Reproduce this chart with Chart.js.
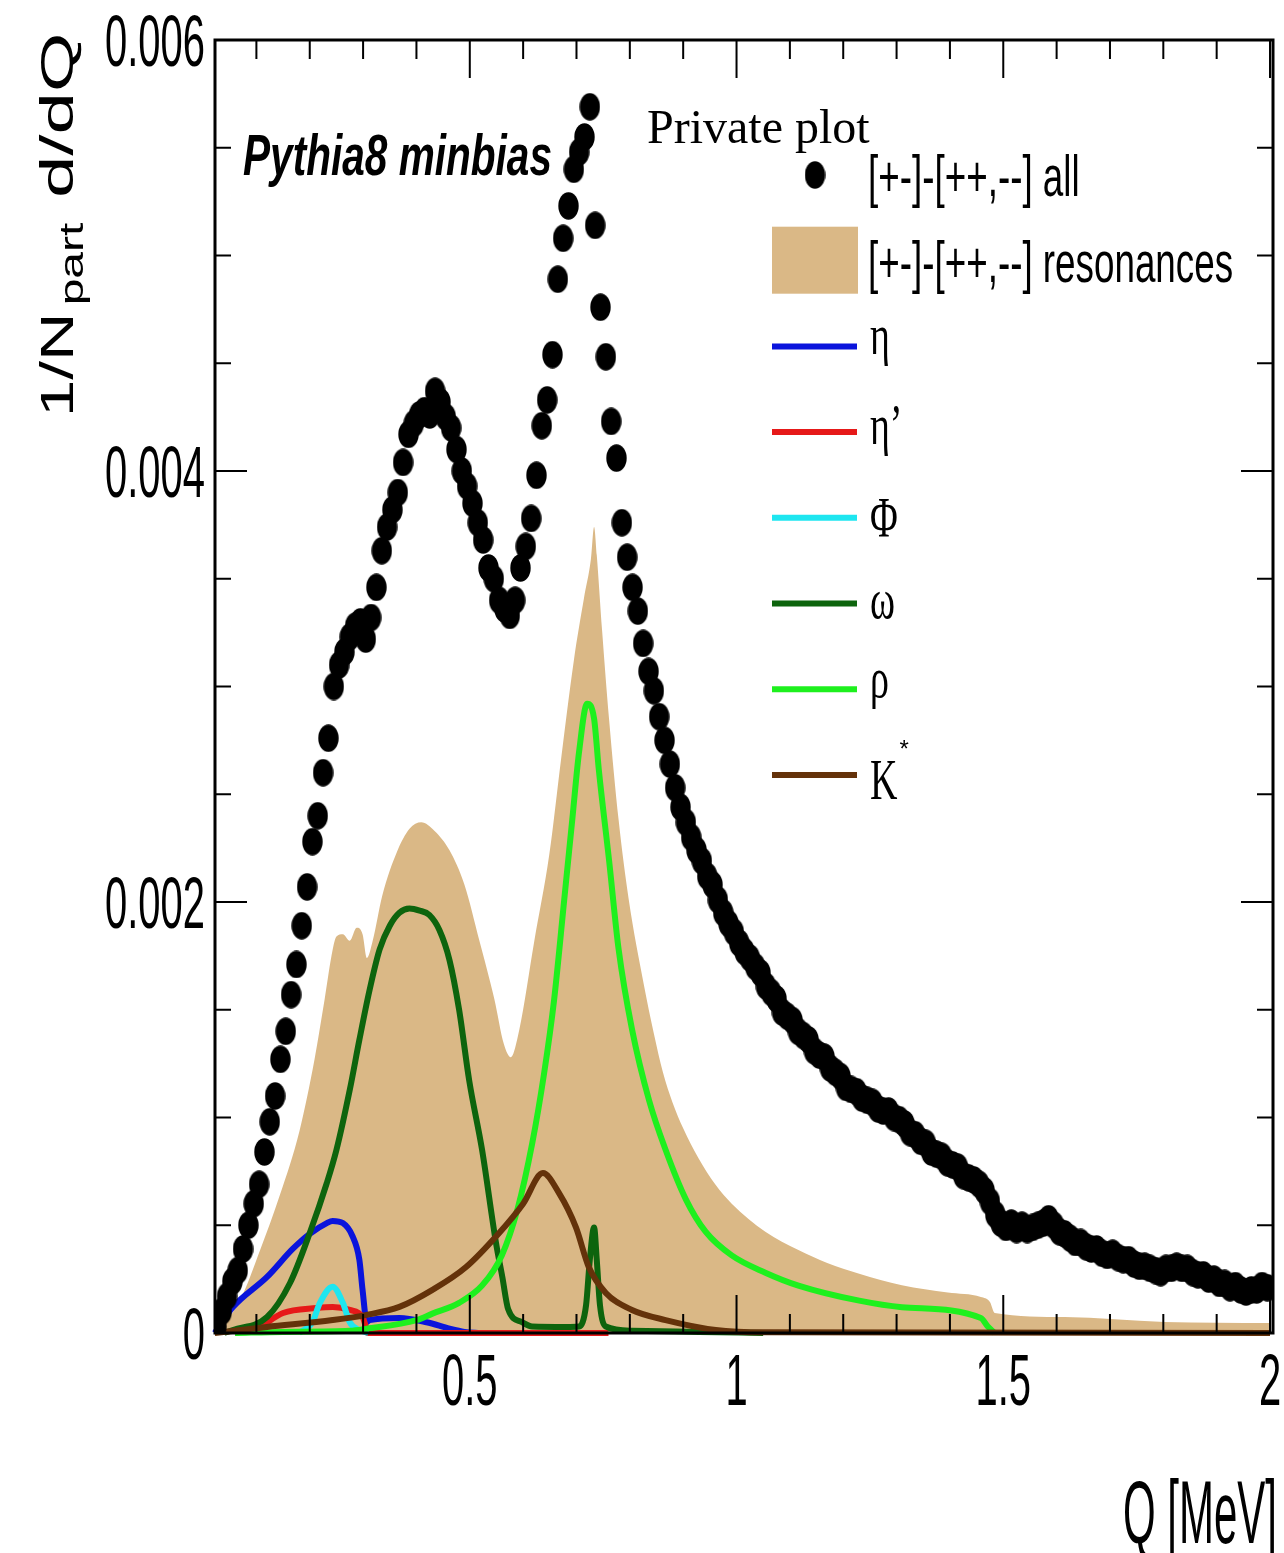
<!DOCTYPE html>
<html>
<head>
<meta charset="utf-8">
<script src="https://cdn.jsdelivr.net/npm/chart.js@4.4.1/dist/chart.umd.min.js"></script>
<style>
html, body { margin: 0; padding: 0; background: #fff; }
canvas { display: block; }
</style>
</head>
<body>
<canvas id="plot" width="1284" height="1553"></canvas>
<script>
// all values below are in units of 1e-3 (1/Npart d/dQ)

// [+-]-[++,--] all : histogram, bin width 0.01, first bin centre 0.025
var allStart = 0.025;
var allBin = 0.01;
var allVals = [
  0.03, 0.10, 0.17, 0.24, 0.29, 0.39, 0.50, 0.60, 0.69, 0.84,
  0.98, 1.10, 1.27, 1.40, 1.57, 1.71, 1.89, 2.07, 2.28, 2.40,
  2.60, 2.76, 3.00, 3.10, 3.16, 3.23, 3.28, 3.30, 3.22, 3.32,
  3.46, 3.63, 3.74, 3.82, 3.90, 4.04, 4.17, 4.22, 4.26, 4.28,
  4.26, 4.37, 4.32, 4.25, 4.20, 4.10, 4.00, 3.93, 3.85, 3.76,
  3.68, 3.55, 3.50, 3.40, 3.36, 3.33, 3.40, 3.55, 3.65, 3.78,
  3.98, 4.21, 4.33, 4.54, 4.89, 5.08, 5.23, 5.40, 5.48, 5.55,
  5.69, 5.14, 4.76, 4.53, 4.23, 4.06, 3.76, 3.60, 3.46, 3.35,
  3.20, 3.07, 2.98, 2.86, 2.75, 2.64, 2.53, 2.44, 2.37, 2.30,
  2.24, 2.19, 2.12, 2.08, 2.01, 1.95, 1.90, 1.86, 1.81, 1.77,
  1.74, 1.70, 1.67, 1.61, 1.58, 1.55, 1.49, 1.47, 1.45, 1.40,
  1.38, 1.36, 1.31, 1.29, 1.28, 1.23, 1.21, 1.19, 1.14, 1.13,
  1.12, 1.09, 1.08, 1.07, 1.04, 1.03, 1.03, 1.00, 0.99, 0.97,
  0.93, 0.92, 0.89, 0.88, 0.84, 0.83, 0.82, 0.79, 0.78, 0.77,
  0.73, 0.72, 0.71, 0.69, 0.66, 0.61, 0.55, 0.51, 0.49, 0.51,
  0.48, 0.50, 0.48, 0.49, 0.50, 0.51, 0.53, 0.50, 0.47, 0.46,
  0.44, 0.42, 0.42, 0.40, 0.39, 0.39, 0.37, 0.36, 0.37, 0.35,
  0.34, 0.34, 0.32, 0.31, 0.31, 0.30, 0.29, 0.28, 0.30, 0.30,
  0.31, 0.30, 0.30, 0.28, 0.27, 0.27, 0.25, 0.25, 0.23, 0.23,
  0.21, 0.22, 0.20, 0.19, 0.20, 0.20, 0.22, 0.21
];

// [+-]-[++,--] resonances (filled)
var resQ = [0.022, 0.069, 0.107, 0.144, 0.181, 0.209, 0.228, 0.243, 0.250, 0.262, 0.275, 0.288, 0.299, 0.307, 0.318,
  0.336, 0.363, 0.387, 0.409, 0.434, 0.462, 0.490, 0.518, 0.546, 0.564, 0.577, 0.593, 0.621, 0.649, 0.671,
  0.695, 0.714, 0.727, 0.733, 0.738, 0.748, 0.761, 0.779, 0.798, 0.826, 0.845, 0.862, 0.880, 0.900, 0.929,
  0.960, 0.991, 1.054, 1.116, 1.170, 1.230, 1.310, 1.396, 1.458, 1.475, 1.484, 1.615, 1.802, 2.0];
var resVals = [0, 0.15, 0.385, 0.64, 0.94, 1.27, 1.55, 1.78, 1.84, 1.85, 1.82, 1.88, 1.85, 1.74, 1.82,
  2.03, 2.23, 2.34, 2.37, 2.33, 2.24, 2.08, 1.82, 1.55, 1.34, 1.28, 1.41, 1.82, 2.22, 2.66,
  3.12, 3.41, 3.59, 3.74, 3.61, 3.26, 2.85, 2.38, 2.01, 1.62, 1.39, 1.21, 1.07, 0.95, 0.81,
  0.69, 0.60, 0.47, 0.385, 0.325, 0.275, 0.222, 0.188, 0.167, 0.144, 0.093, 0.074, 0.051, 0.046];

// eta
var etaQ = [0.022, 0.056, 0.120, 0.168, 0.200, 0.232, 0.243, 0.262, 0.280, 0.293, 0.299, 0.307, 0.312, 0.368, 0.419, 0.462, 0.490, 0.52];
var etaVals = [0, 0.12, 0.26, 0.39, 0.46, 0.51, 0.52, 0.51, 0.45, 0.34, 0.20, 0.05, 0.06, 0.07, 0.05, 0.02, 0.005, 0];

// eta prime
var etapQ = [0.060, 0.100, 0.150, 0.213, 0.243, 0.275, 0.299, 0.305, 0.308, 0.76];
var etapVals = [0, 0.02, 0.093, 0.116, 0.121, 0.107, 0.074, 0.03, 0, 0];

// phi
var phiQ = [0.180, 0.205, 0.219, 0.243, 0.262, 0.275, 0.293, 0.31];
var phiVals = [0, 0.05, 0.14, 0.215, 0.14, 0.05, 0.014, 0];

// omega
var omegaQ = [0.040, 0.056, 0.120, 0.163, 0.200, 0.232, 0.250, 0.275, 0.293, 0.312, 0.331, 0.350, 0.368, 0.387,
  0.406, 0.424, 0.443, 0.462, 0.480, 0.499, 0.523, 0.549, 0.561, 0.572, 0.598, 0.617, 0.680, 0.705, 0.718,
  0.725, 0.733, 0.738, 0.744, 0.755, 0.804, 0.93, 1.05];
var omegaVals = [0, 0.014, 0.074, 0.232, 0.464, 0.696, 0.849, 1.128, 1.36, 1.59, 1.78, 1.89, 1.95, 1.97,
  1.96, 1.94, 1.87, 1.73, 1.50, 1.17, 0.85, 0.42, 0.26, 0.11, 0.05, 0.03, 0.028, 0.03, 0.13,
  0.34, 0.49, 0.34, 0.13, 0.03, 0.01, 0.005, 0];

// rho
var rhoQ = [0.060, 0.150, 0.275, 0.307, 0.400, 0.430, 0.480, 0.523, 0.560, 0.590, 0.617, 0.639, 0.658, 0.677,
  0.692, 0.705, 0.720, 0.733, 0.742, 0.761, 0.779, 0.804, 0.836, 0.867, 0.905, 0.942, 0.991, 1.054, 1.116,
  1.230, 1.310, 1.458, 1.471, 1.484];
var rhoVals = [0, 0.005, 0.01, 0.02, 0.06, 0.09, 0.14, 0.22, 0.36, 0.58, 0.88, 1.20, 1.545, 2.01,
  2.38, 2.70, 2.92, 2.85, 2.61, 2.195, 1.78, 1.41, 1.08, 0.85, 0.62, 0.47, 0.36, 0.28, 0.22,
  0.15, 0.12, 0.07, 0.03, 0];

// K*
var kstarQ = [0.022, 0.120, 0.243, 0.307, 0.368, 0.430, 0.493, 0.555, 0.600, 0.637, 0.667, 0.699, 0.723, 0.755,
  0.804, 0.867, 0.961, 1.054, 2.0];
var kstarVals = [0, 0.028, 0.06, 0.084, 0.121, 0.20, 0.306, 0.464, 0.60, 0.742, 0.65, 0.49, 0.306, 0.186,
  0.107, 0.06, 0.014, 0.003, 0];

var curveLabels = ['η', 'η’', 'Φ', 'ω', 'ρ', 'K*'];
var curveColors = ['#0a14dc', '#e61919', '#1ee6f0', '#0d640d', '#1ef01e', '#64320a'];
var allLabel = '[+-]-[++,--] all';
var resLabel = '[+-]-[++,--] resonances';
var resColor = '#dab886';

var xTicks = [0.5, 1, 1.5, 2];
var xTickLabels = ['0.5', '1', '1.5', '2'];
var yTicks = [0, 0.002, 0.004, 0.006];
var yTickLabels = ['0', '0.002', '0.004', '0.006'];

var SCALE = 1e-3;
var SY = 1.45; // the picture is stretched vertically

function pts(qs, vs) {
    return qs.map(function (q, i) { return { x: q, y: vs[i] * SCALE }; });
}

var allPts = allVals.map(function (v, i) {
    return { x: allStart + allBin * i, y: v * SCALE };
});

// elliptic marker, like the stretched ROOT full circle
var dot = document.createElement('canvas');
dot.width = 21;
dot.height = 28;
var dctx = dot.getContext('2d');
dctx.fillStyle = '#000';
dctx.beginPath();
dctx.ellipse(10.5, 14, 10.2, 13.7, 0, 0, Math.PI * 2);
dctx.fill();

function lineSet(label, data, color, order) {
    return {
        label: label,
        data: data,
        borderColor: color,
        backgroundColor: color,
        borderWidth: 6,
        pointRadius: 0,
        fill: false,
        cubicInterpolationMode: 'monotone',
        clip: 6,
        order: order
    };
}

function drawText(ctx, txt, x, y, font, sx, sy, align, vcenter) {
    ctx.save();
    ctx.font = font;
    var m = ctx.measureText(txt);
    var w = m.width * sx;
    var left = align === 'right' ? x - w : (align === 'center' ? x - w / 2 : x);
    var base = y;
    if (vcenter) {
        base = y + (m.actualBoundingBoxAscent - m.actualBoundingBoxDescent) / 2 * sy;
    }
    ctx.translate(left, base);
    ctx.scale(sx, sy);
    ctx.textAlign = 'left';
    ctx.textBaseline = 'alphabetic';
    ctx.fillStyle = '#000';
    ctx.fillText(txt, 0, 0);
    ctx.restore();
    return w;
}

function fitScale(ctx, txt, font, width) {
    ctx.save();
    ctx.font = font;
    var s = width / ctx.measureText(txt).width;
    ctx.restore();
    return s;
}

var SANS = '"Liberation Sans", Arial, Helvetica, sans-serif';
var SERIF = '"Liberation Serif", "Times New Roman", serif';

var rootAxes = {
    id: 'rootAxes',
    afterDatasetsDraw: function (chart) {
        var ctx = chart.ctx, a = chart.chartArea;
        var xs = chart.scales.x, ys = chart.scales.y;
        ctx.save();
        ctx.strokeStyle = '#000';
        ctx.lineWidth = 2;
        ctx.beginPath();
        var k, p, len;
        for (k = 1; k <= 20; k++) {
            p = xs.getPixelForValue(k / 10);
            len = (k % 5 === 0) ? 38 : 19;
            ctx.moveTo(p, a.bottom); ctx.lineTo(p, a.bottom - len);
            ctx.moveTo(p, a.top); ctx.lineTo(p, a.top + len);
        }
        for (k = 1; k < 12; k++) {
            p = ys.getPixelForValue(k * 0.0005);
            len = (k % 4 === 0) ? 32 : 16;
            ctx.moveTo(a.left, p); ctx.lineTo(a.left + len, p);
            ctx.moveTo(a.right, p); ctx.lineTo(a.right - len, p);
        }
        ctx.stroke();
        ctx.lineWidth = 3;
        ctx.strokeRect(a.left, a.top, a.right - a.left, a.bottom - a.top);
        ctx.restore();
    },
    afterDraw: function (chart) {
        var ctx = chart.ctx;
        var xs = chart.scales.x, ys = chart.scales.y;
        var tickFont = '50px ' + SANS;
        var tsx = fitScale(ctx, '0.006', tickFont, 100);
        yTicks.forEach(function (v, i) {
            drawText(ctx, yTickLabels[i], 205, ys.getPixelForValue(v), tickFont, tsx, SY, 'right', true);
        });
        xTicks.forEach(function (v, i) {
            drawText(ctx, xTickLabels[i], xs.getPixelForValue(v), 1405, tickFont, tsx, SY, 'center', false);
        });

        // x title
        var xf = '61px ' + SANS;
        drawText(ctx, 'Q [MeV]', 1277, 1543, xf, fitScale(ctx, 'Q [MeV]', xf, 154), SY, 'right', false);

        // y title, rotated
        ctx.save();
        ctx.translate(73, 417);
        ctx.rotate(-Math.PI / 2);
        var bf = '47px ' + SANS;
        var sf = '34px ' + SANS;
        drawText(ctx, '1/N', 0, 0, bf, fitScale(ctx, '1/N', bf, 72 * SY), 1, 'left', false);
        drawText(ctx, 'part', 77 * SY, 10, sf, fitScale(ctx, 'part', sf, 57 * SY), 1, 'left', false);
        drawText(ctx, 'd/dQ', 151 * SY, 0, bf, fitScale(ctx, 'd/dQ', bf, 114 * SY), 1, 'left', false);
        ctx.restore();

        // labels
        var pf = 'italic bold 40px ' + SANS;
        drawText(ctx, 'Pythia8 minbias', 243, 175, pf, fitScale(ctx, 'Pythia8 minbias', pf, 309), SY, 'left', false);
        drawText(ctx, 'Private plot', 647, 143, '48px ' + SERIF, 1, 1, 'left', false);

        // legend
        var rowY = function (i) { return 175 + 85.7 * i; };
        var lf = '40px ' + SANS;
        var gf = '40px ' + SERIF;
        ctx.drawImage(dot, 815 - dot.width / 2, rowY(0) - dot.height / 2);
        drawText(ctx, allLabel, 868, rowY(0) + 5, lf, 0.92, SY, 'left', true);
        ctx.fillStyle = resColor;
        ctx.fillRect(772, rowY(1) - 34, 86, 67);
        drawText(ctx, resLabel, 868, rowY(1) + 5, lf, 0.92, SY, 'left', true);
        curveLabels.forEach(function (lab, i) {
            var y = rowY(i + 2);
            ctx.save();
            ctx.strokeStyle = curveColors[i];
            ctx.lineWidth = 6;
            ctx.beginPath();
            ctx.moveTo(772, y);
            ctx.lineTo(857, y);
            ctx.stroke();
            ctx.restore();
            if (lab.slice(-1) === '*') {
                var w = drawText(ctx, lab.slice(0, -1), 870, y + 5, gf, 0.95, SY, 'left', true);
                drawText(ctx, '*', 870 + w + 2, y - 30, '24px ' + SANS, 1, 1, 'left', true);
            } else {
                drawText(ctx, lab, 870, y, gf, 0.95, SY, 'left', true);
            }
        });
    }
};

var ctx = document.getElementById('plot');
var chart = new Chart(ctx, {
    type: 'line',
    data: {
        datasets: [
            {
                label: allLabel,
                data: allPts,
                showLine: false,
                pointStyle: dot,
                pointRadius: 10,
                pointHoverRadius: 10,
                clip: 0,
                order: 0
            },
            lineSet(curveLabels[5], pts(kstarQ, kstarVals), curveColors[5], 1),
            lineSet(curveLabels[4], pts(rhoQ, rhoVals), curveColors[4], 2),
            lineSet(curveLabels[3], pts(omegaQ, omegaVals), curveColors[3], 3),
            lineSet(curveLabels[2], pts(phiQ, phiVals), curveColors[2], 4),
            lineSet(curveLabels[1], pts(etapQ, etapVals), curveColors[1], 5),
            lineSet(curveLabels[0], pts(etaQ, etaVals), curveColors[0], 6),
            {
                label: resLabel,
                data: pts(resQ, resVals),
                borderWidth: 0,
                pointRadius: 0,
                backgroundColor: resColor,
                borderColor: resColor,
                fill: 'origin',
                cubicInterpolationMode: 'monotone',
                clip: 0,
                order: 10
            }
        ]
    },
    options: {
        responsive: false,
        animation: false,
        devicePixelRatio: 1,
        layout: { padding: { left: 215, top: 40, right: 8, bottom: 220 } },
        plugins: {
            legend: { display: false },
            tooltip: { enabled: false }
        },
        scales: {
            x: { type: 'linear', min: 0.0224, max: 2.0056, display: false },
            y: { type: 'linear', min: 0, max: 0.006, display: false }
        }
    },
    plugins: [rootAxes]
});
</script>
</body>
</html>
